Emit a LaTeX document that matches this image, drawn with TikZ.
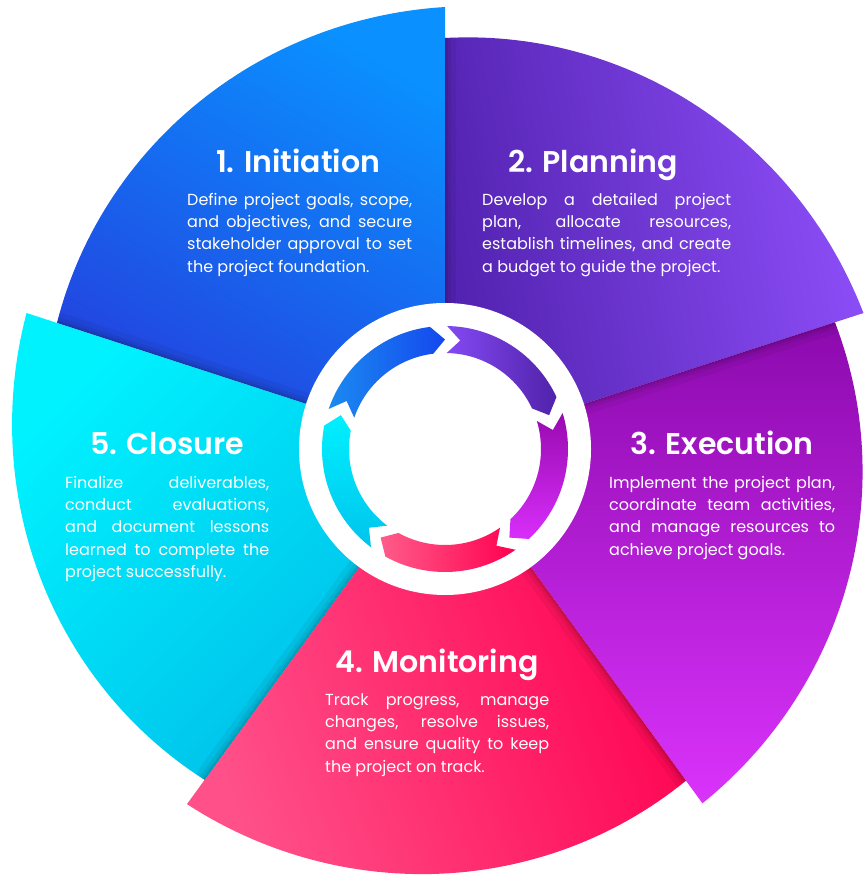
\documentclass[tikz,border=0pt]{standalone}
\usepackage{fontspec}
\setmainfont{Poppins}
\newfontfamily\titlefont{Poppins SemiBold}
\definecolor{sOneA}{HTML}{2440DE}
\definecolor{sOneB}{HTML}{0A90FF}
\definecolor{sTwoA}{HTML}{5222B0}
\definecolor{sTwoB}{HTML}{8D4EF8}
\definecolor{sThrA}{HTML}{8C0AAE}
\definecolor{sThrB}{HTML}{DA33FB}
\definecolor{sFouA}{HTML}{FF5089}
\definecolor{sFouB}{HTML}{FF0050}
\definecolor{sFivA}{HTML}{00F2FF}
\definecolor{sFivB}{HTML}{00BCE8}
\definecolor{aOneA}{HTML}{1B8AF0}
\definecolor{aOneB}{HTML}{1448EE}
\definecolor{aTwoA}{HTML}{8449F3}
\definecolor{aTwoB}{HTML}{5022AA}
\definecolor{aThrA}{HTML}{980AB0}
\definecolor{aThrB}{HTML}{D82EFA}
\definecolor{aFouA}{HTML}{FF5C8A}
\definecolor{aFouB}{HTML}{FF0050}
\definecolor{aFivA}{HTML}{00F0FF}
\definecolor{aFivB}{HTML}{00C4EC}
\newcommand\JL[2]{\makebox[#1][s]{#2}}
\begin{document}
\begin{tikzpicture}[x=1pt,y=1pt,
  segp/.style n args={4}{insert path={-- (#1:#3) -- plot[domain=#1:#2,samples=60] (\x:{#3+(#4-#3)*(#1-\x)/(#1-#2)}) -- cycle}},
  arrowp/.style 2 args={insert path={(#1-1:123) -- (#1-8:109.5) -- (#1-1:96) arc[start angle=#1-1, end angle=#2+7, radius=96] -- (#2:109.5) -- (#2+7:123) arc[start angle=#2+7, end angle=#1-1, radius=123] -- cycle}},
  ttl/.style={font=\titlefont\fontsize{30}{36}\selectfont, text=white, anchor=base, inner sep=0pt},
  body/.style={font=\fontsize{16}{22.3}\selectfont, text=white, align=left, anchor=north west, inner sep=0pt}]
\useasboundingbox (0,0) rectangle (867,881);
\begin{scope}[shift={(445,432)}]
  % segments
  \path[top color=sOneB, bottom color=sOneA, shading angle=-30] (0,0) [segp={162}{90}{408}{442}];
  \path[top color=sTwoB, bottom color=sTwoA, shading angle=-80] (0,0) [segp={90}{18}{411}{440}];
  \path[top color=sThrA, bottom color=sThrB] (0,0) [segp={378}{306}{410}{438}];
  \path[top color=sFouB, bottom color=sFouA, shading angle=-70] (0,0) [segp={306}{234}{410}{439}];
  \path[top color=sFivA, bottom color=sFivB, shading angle=45] (0,0) [segp={234}{162}{409}{440}];
  % soft shadows along boundaries
  \begin{scope}
    \clip (0,0) [segp={162}{90}{408}{442}];
    \foreach \w/\o in {22/0.05,12/0.06,6/0.07,2/0.08} \draw[line width=\w, black, opacity=\o] (0,0) -- (162:470);
  \end{scope}
  \begin{scope}
    \clip (0,0) [segp={90}{18}{411}{440}];
    \foreach \w/\o in {22/0.05,12/0.06,6/0.07,2/0.08} \draw[line width=\w, black, opacity=\o] (0,0) -- (90:470);
  \end{scope}
  \begin{scope}
    \clip (0,0) [segp={378}{306}{410}{438}];
    \foreach \w/\o in {22/0.05,12/0.06,6/0.07,2/0.08} \draw[line width=\w, black, opacity=\o] (0,0) -- (18:470);
  \end{scope}
  \begin{scope}
    \clip (0,0) [segp={306}{234}{410}{439}];
    \foreach \w/\o in {22/0.05,12/0.06,6/0.07,2/0.08} \draw[line width=\w, black, opacity=\o] (0,0) -- (306:470);
  \end{scope}
  \begin{scope}
    \clip (0,0) [segp={234}{162}{409}{440}];
    \foreach \w/\o in {22/0.05,12/0.06,6/0.07,2/0.08} \draw[line width=\w, black, opacity=\o] (0,0) -- (234:470);
  \end{scope}
  % center ring
  \fill[white] (0,0) circle (146);
  \path[left color=aOneA, right color=aOneB] [arrowp={162}{90}];
  \path[left color=aTwoA, right color=aTwoB] [arrowp={90}{18}];
  \path[top color=aThrA, bottom color=aThrB] [arrowp={18}{-54}];
  \path[left color=aFouA, right color=aFouB] [arrowp={-54}{-126}];
  \path[top color=aFivA, bottom color=aFivB] [arrowp={234}{162}];
\end{scope}
% titles
\node[ttl] (t1) at (298,708) {1. Initiation};
\node[ttl] (t2) at (593,708) {2. Planning};
\node[ttl] (t3) at (722,426) {3. Execution};
\node[ttl] (t4) at (437,208) {4. Monitoring};
\node[ttl] (t5) at (167,426) {5. Closure};
% bodies
\node[body] (b1) at (187,689) {\rule{0pt}{13pt}\JL{225pt}{Define project goals, scope,}\\\JL{225pt}{and objectives, and secure}\\\JL{225pt}{stakeholder approval to set}\\the project foundation.};
\node[body] (b2) at (482,689) {\rule{0pt}{13pt}\JL{249pt}{Develop a detailed project}\\\JL{249pt}{plan, allocate resources,}\\\JL{249pt}{establish timelines, and create}\\a budget to guide the project.};
\node[body] (b3) at (609,406) {\rule{0pt}{13pt}\JL{226pt}{Implement the project plan,}\\\JL{226pt}{coordinate team activities,}\\\JL{226pt}{and manage resources to}\\achieve project goals.};
\node[body] (b4) at (325,189) {\rule{0pt}{13pt}\JL{224pt}{Track progress, manage}\\\JL{224pt}{changes, resolve issues,}\\\JL{224pt}{and ensure quality to keep}\\the project on track.};
\node[body] (b5) at (65,406) {\rule{0pt}{13pt}\JL{204pt}{Finalize deliverables,}\\\JL{204pt}{conduct evaluations,}\\\JL{204pt}{and document lessons}\\\JL{204pt}{learned to complete the}\\project successfully.};
\end{tikzpicture}
\end{document}
